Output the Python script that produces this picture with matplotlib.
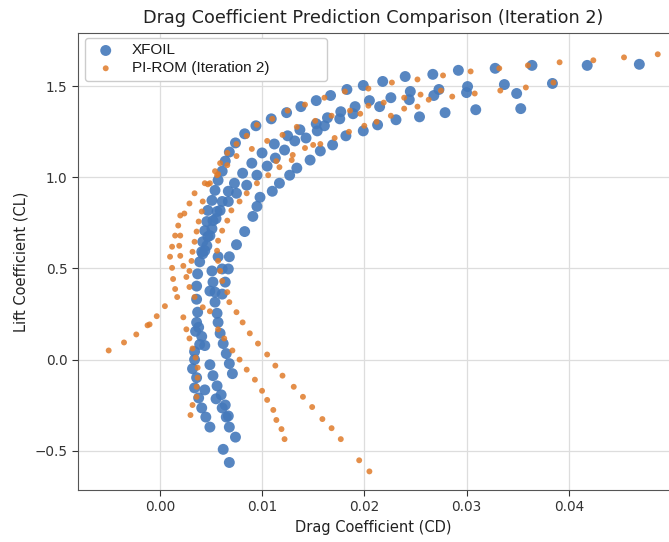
import matplotlib
matplotlib.use("Agg")
import matplotlib.pyplot as plt

title = "Drag Coefficient Prediction Comparison (Iteration 2)"
x_label = "Drag Coefficient (CD)"
y_label = "Lift Coefficient (CL)"
series_names = ["XFOIL", "PI-ROM (Iteration 2)"]
x_ticks = [0.00, 0.01, 0.02, 0.03, 0.04]
y_ticks = [-0.5, 0.0, 0.5, 1.0, 1.5]

xfoil_cd = [
    0.0037, 0.0039, 0.0041, 0.0042, 0.0044, 0.0046, 0.0047, 0.0051, 0.0054, 0.0057,
    0.0061, 0.0064, 0.0068, 0.0074, 0.0083, 0.0094, 0.0109, 0.0124, 0.0138, 0.0153,
    0.0167, 0.0183, 0.0199, 0.0218, 0.0240, 0.0267, 0.0292, 0.0328, 0.0364, 0.0418, 0.0469,
    0.0177, 0.0191, 0.0205, 0.0226, 0.0245, 0.0273, 0.0301, 0.0337, 0.0384,
    0.0176, 0.0189, 0.0215, 0.0244, 0.0268, 0.0300, 0.0349,
    0.0182, 0.0199, 0.0213, 0.0231, 0.0254, 0.0279, 0.0309, 0.0353,
    0.0169, 0.0157, 0.0147, 0.0134, 0.0127, 0.0117, 0.0110, 0.0098, 0.0095, 0.0091,
    0.0083, 0.0075, 0.0068,
    0.0161, 0.0154, 0.0143, 0.0132, 0.0122, 0.0113, 0.0105, 0.0095, 0.0085, 0.0075,
    0.0067, 0.0059, 0.0055, 0.0051, 0.0047, 0.0046, 0.0042,
    0.0164, 0.0153, 0.0137, 0.0125, 0.0112, 0.0100, 0.0090, 0.0081, 0.0073, 0.0067,
    0.0061, 0.0056, 0.0052, 0.0049, 0.0044,
    0.0057, 0.0061, 0.0051, 0.0052, 0.0049, 0.0054, 0.0054, 0.0067, 0.0064, 0.0061,
    0.0036, 0.0036, 0.0037, 0.0036, 0.0035, 0.0041, 0.0044, 0.0034, 0.0034, 0.0032,
    0.0036, 0.0034, 0.0038, 0.0041, 0.0045, 0.0049, 0.0039, 0.0038,
    0.0056, 0.0057, 0.0059, 0.0062, 0.0065, 0.0068, 0.0071,
    0.0049, 0.0052, 0.0056, 0.0060, 0.0064, 0.0067, 0.0068, 0.0074,
    0.0044, 0.0055, 0.0061, 0.0065, 0.0062, 0.0068,
]
xfoil_cl = [
    0.470, 0.536, 0.591, 0.646, 0.707, 0.757, 0.818, 0.873, 0.928, 0.983,
    1.033, 1.088, 1.138, 1.188, 1.238, 1.282, 1.320, 1.354, 1.387, 1.420,
    1.448, 1.481, 1.503, 1.525, 1.552, 1.564, 1.586, 1.597, 1.613, 1.613, 1.619,
    1.359, 1.387, 1.420, 1.436, 1.470, 1.481, 1.497, 1.508, 1.514,
    1.320, 1.348, 1.387, 1.425, 1.448, 1.464, 1.459,
    1.227, 1.254, 1.287, 1.315, 1.331, 1.354, 1.370, 1.376,
    1.177, 1.144, 1.094, 1.050, 1.011, 0.967, 0.923, 0.890, 0.840, 0.785,
    0.702, 0.630, 0.564,
    1.282, 1.254, 1.215, 1.199, 1.149, 1.105, 1.061, 1.011, 0.956, 0.912,
    0.867, 0.818, 0.773, 0.718, 0.674, 0.624, 0.580,
    1.326, 1.293, 1.260, 1.227, 1.182, 1.133, 1.077, 1.022, 0.967, 0.923,
    0.867, 0.812, 0.762, 0.680, 0.597,
    0.564, 0.497, 0.486, 0.425, 0.376, 0.315, 0.370, 0.497, 0.425, 0.359,
    0.403, 0.331, 0.260, 0.204, 0.155, 0.127, 0.077, 0.044, 0.000, -0.050,
    -0.099, -0.155, -0.210, -0.265, -0.315, -0.370, 0.083, 0.177,
    0.254, 0.204, 0.144, 0.088, 0.033, -0.022, -0.077,
    -0.028, -0.088, -0.144, -0.193, -0.249, -0.309, -0.370, -0.425,
    -0.166, -0.215, -0.265, -0.315, -0.492, -0.564,
]

pirom_cd = [
    0.0054, 0.0059, 0.0066, 0.0075, 0.0085, 0.0095, 0.0110, 0.0125, 0.0142, 0.0161,
    0.0181, 0.0204, 0.0227, 0.0252, 0.0277, 0.0304, 0.0332, 0.0360, 0.0391, 0.0424,
    0.0454, 0.0487,
    0.0168, 0.0186, 0.0204, 0.0219, 0.0239, 0.0255, 0.0275, 0.0308, 0.0333, 0.0358, 0.0385,
    0.0152, 0.0134, 0.0120, 0.0105, 0.0090, 0.0075, 0.0066, 0.0057, 0.0049,
    0.0171, 0.0185, 0.0200, 0.0212, 0.0226, 0.0239, 0.0252, 0.0263, 0.0286, 0.0196,
    0.0157, 0.0142, 0.0130, 0.0114, 0.0106, 0.0095, 0.0085, 0.0078, 0.0070, 0.0066,
    0.0061, 0.0057, 0.0056, 0.0057, 0.0059,
    0.0150, 0.0129, 0.0117,
    0.0044, 0.0034, 0.0029, 0.0024, 0.0020, 0.0018, 0.0015, 0.0020, 0.0012, 0.0019,
    0.0010, 0.0020, 0.0012, 0.0023, 0.0026, 0.0013, 0.0029, 0.0015, 0.0017, 0.0005,
    0.0023, -0.0003, -0.0010,
    -0.0050, -0.0035, -0.0023, -0.0012,
    0.0042, 0.0041, 0.0038, 0.0036, 0.0034, 0.0032, 0.0031, 0.0029, 0.0034, 0.0042,
    0.0047, 0.0056,
    0.0061, 0.0066, 0.0068, 0.0075, 0.0081, 0.0088, 0.0096, 0.0105, 0.0113, 0.0120,
    0.0131, 0.0140, 0.0149, 0.0159, 0.0168, 0.0177, 0.0195, 0.0205,
    0.0049, 0.0057, 0.0063, 0.0071, 0.0078, 0.0085, 0.0093, 0.0100, 0.0105, 0.0111,
    0.0114, 0.0119, 0.0122,
    0.0026, 0.0029, 0.0032, 0.0035, 0.0037, 0.0037, 0.0036, 0.0036, 0.0032, 0.0030,
]
pirom_cl = [
    1.033, 1.077, 1.133, 1.182, 1.227, 1.287, 1.320, 1.365, 1.398, 1.436,
    1.470, 1.486, 1.519, 1.536, 1.558, 1.580, 1.597, 1.613, 1.630, 1.641,
    1.657, 1.674,
    1.337, 1.365, 1.392, 1.409, 1.436, 1.453, 1.475, 1.459, 1.475, 1.492, 1.519,
    1.309, 1.276, 1.232, 1.199, 1.155, 1.116, 1.066, 1.017, 0.967,
    1.215, 1.249, 1.282, 1.304, 1.337, 1.376, 1.387, 1.425, 1.442, 1.348,
    1.182, 1.160, 1.122, 1.088, 1.011, 0.967, 0.912, 0.867, 0.818, 0.762,
    0.707, 0.652, 0.597, 0.541, 0.486,
    1.177, 1.094, 1.055,
    0.967, 0.912, 0.856, 0.801, 0.790, 0.735, 0.680, 0.680, 0.619, 0.624,
    0.564, 0.569, 0.503, 0.514, 0.453, 0.442, 0.398, 0.387, 0.343, 0.293,
    0.232, 0.238, 0.193,
    0.050, 0.094, 0.138, 0.188,
    0.867, 0.812, 0.757, 0.702, 0.646, 0.591, 0.541, 0.486, 0.343, 0.287,
    0.961, 1.011,
    0.431, 0.370, 0.315, 0.260, 0.204, 0.144, 0.088, 0.028, -0.033, -0.088,
    -0.149, -0.204, -0.260, -0.326, -0.376, -0.436, -0.552, -0.613,
    0.265, 0.166, 0.116, 0.050, 0.000, -0.055, -0.110, -0.171, -0.221, -0.276,
    -0.331, -0.381, -0.436,
    0.166, 0.116, 0.061, 0.011, -0.044, -0.099, -0.149, -0.204, -0.249, -0.304,
]

fig = plt.figure(figsize=(6.69, 5.42), dpi=100)
ax = fig.add_axes([0.1166, 0.0959, 0.8834, 0.843])

ax.scatter(xfoil_cd, xfoil_cl, s=62, color="#4579bb", alpha=0.9,
           edgecolors="none", label=series_names[0], zorder=2)
ax.scatter(pirom_cd, pirom_cl, s=18, color="#e07b2a", alpha=0.85,
           edgecolors="none", label=series_names[1], zorder=3)

ax.set_xlim(-0.0080, 0.0498)
ax.set_ylim(-0.715, 1.79)
ax.set_xticks(x_ticks)
ax.set_yticks(y_ticks)
ax.set_xticklabels([f"{v:.2f}" for v in x_ticks])
ax.set_yticklabels([f"{v:.1f}".replace("-", "\u2212") for v in y_ticks])
ax.tick_params(labelsize=9.8, colors="#333333", length=4)
ax.grid(True, color="#dddddd", linewidth=0.9)
ax.set_axisbelow(True)
for side in ["left", "bottom", "top"]:
    ax.spines[side].set_color("#555555")
ax.spines["right"].set_visible(False)

ax.set_title(title, fontsize=12.7, color="#222222", pad=7)
ax.set_xlabel(x_label, fontsize=10.5, color="#222222")
ax.set_ylabel(y_label, fontsize=10.5, color="#222222")

leg = ax.legend(loc="upper left", bbox_to_anchor=(0.012, 0.0, 0.41, 0.989),
                mode="expand", frameon=True, framealpha=1.0,
                edgecolor="#cccccc", borderaxespad=0.0, handletextpad=0.7,
                borderpad=0.35, labelspacing=0.25,
                prop={"family": "Liberation Sans", "size": 11})
for t in leg.get_texts():
    t.set_color("#1a1a1a")

fig.savefig("out.png", dpi=100)
